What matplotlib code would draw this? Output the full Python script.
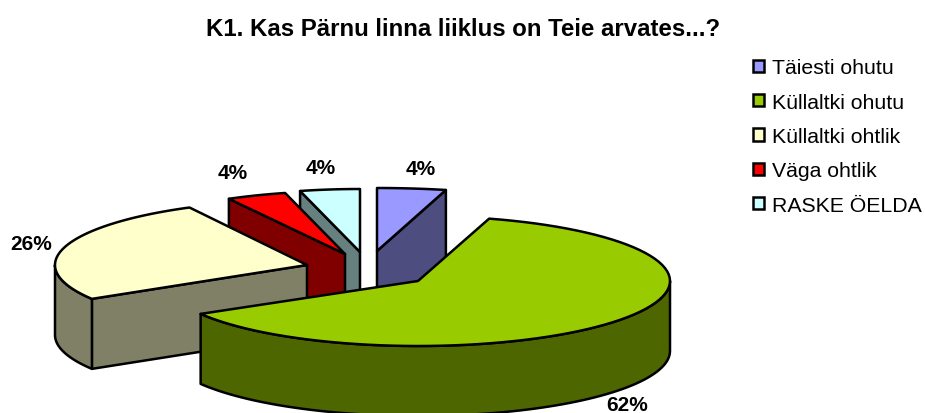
import numpy as np
import matplotlib
matplotlib.use("Agg")
import matplotlib.pyplot as plt
from matplotlib.patches import Patch, Polygon

plt.rcParams['font.family'] = ['Liberation Sans', 'DejaVu Sans']

labels = ["Täiesti ohutu", "Küllaltki ohutu", "Küllaltki ohtlik", "Väga ohtlik", "RASKE ÖELDA"]
values = [4, 62, 26, 4, 4]
colors = ["#9999FF", "#99CC00", "#FFFFCC", "#FF0000", "#CCFFFF"]
sides = ["#4D4D80", "#4D6600", "#808066", "#800000", "#668080"]

# exploded slice centres, in pixels of the picture
center_x = [377, 418, 307, 345, 360]
center_y = [252, 282, 266, 255, 253]
radius_x = [277, 252, 252, 241, 241]
radius_y = [63, 65, 65, 63, 63]
depth = 70
# small turn per slice, the original has some perspective
turn = [0, 2, 1, 0, 0]
label_x = [421, 627, 31, 233, 321]
label_y = [170, 406, 245, 174, 169]

fig = plt.figure(figsize=(9.25, 4.14), dpi=100)
ax = fig.add_axes([0, 0, 1, 1])
ax.set_xlim(0, 925)
ax.set_ylim(414, 0)
ax.axis("off")

# angles run clockwise from 12 o'clock
ends = np.cumsum(values) / sum(values) * 360
starts = ends - np.array(values) / sum(values) * 360


def rim(i, a, b):
    t = np.radians(np.linspace(a, b, 80))
    return center_x[i] + radius_x[i] * np.sin(t), center_y[i] - radius_y[i] * np.cos(t)


def add_poly(xs, ys, color, z):
    ax.add_patch(Polygon(np.column_stack([xs, ys]), closed=True, facecolor=color,
                         edgecolor="black", linewidth=1.8, joinstyle="round", zorder=z))


# back slices first, the big green one goes on top
for z, i in enumerate([4, 0, 3, 2, 1]):
    a, b = starts[i] + turn[i], ends[i] + turn[i]
    base = z * 10
    # cut faces that look to the viewer
    if a > 180:
        x, y = rim(i, a, a)
        add_poly([center_x[i], x[0], x[0], center_x[i]],
                 [center_y[i], y[0], y[0] + depth, center_y[i] + depth], sides[i], base + 1)
    if b < 180:
        x, y = rim(i, b, b)
        add_poly([center_x[i], x[0], x[0], center_x[i]],
                 [center_y[i], y[0], y[0] + depth, center_y[i] + depth], sides[i], base + 1)
    # front of the rim
    r0, r1 = max(a, 90), min(b, 270)
    if r1 > r0:
        x, y = rim(i, r0, r1)
        add_poly(np.r_[x, x[::-1]], np.r_[y, y[::-1] + depth], sides[i], base + 2)
    # top
    x, y = rim(i, a, b)
    add_poly(np.r_[center_x[i], x], np.r_[center_y[i], y], colors[i], base + 3)

for i, v in enumerate(values):
    ax.text(label_x[i], label_y[i], f"{v}%", fontsize=15, fontweight="bold",
            ha="center", va="center", zorder=100)

ax.text(463, 30, "K1. Kas Pärnu linna liiklus on Teie arvates...?", fontsize=17.3,
        fontweight="bold", ha="center", va="center")

handles = [Patch(facecolor=c, edgecolor="black", linewidth=1.8) for c in colors]
ax.legend(handles, labels, loc="upper left", bbox_to_anchor=(753, 59.5), bbox_transform=ax.transData,
          frameon=False, fontsize=15.3, handlelength=0.52, handleheight=0.52, handletextpad=0.38,
          labelspacing=0.72, borderpad=0, borderaxespad=0)

fig.savefig("out.png", dpi=100)
